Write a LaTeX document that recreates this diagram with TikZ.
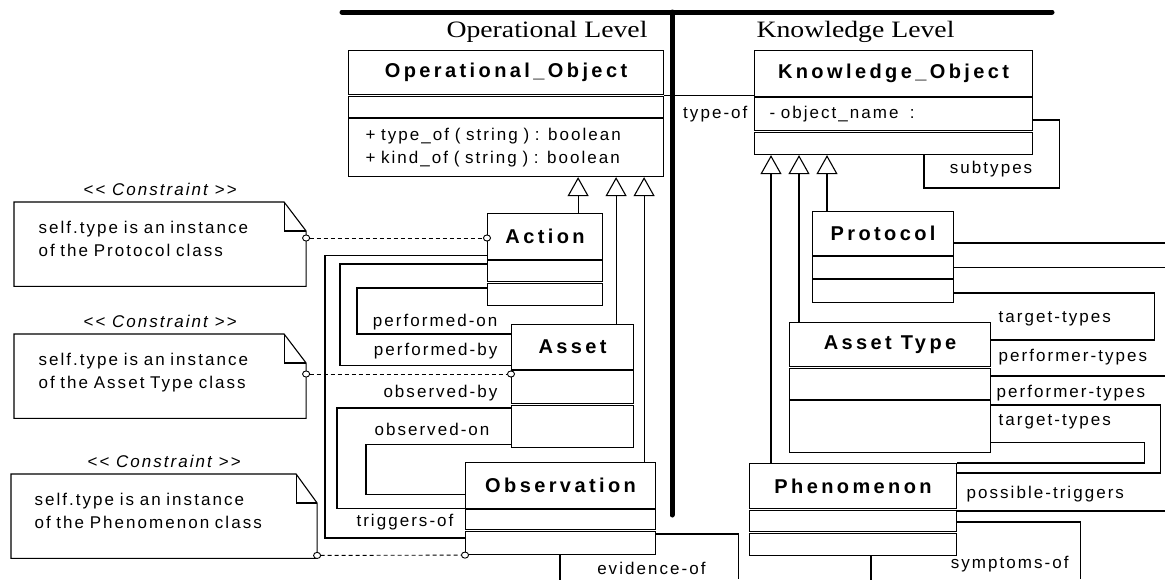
\documentclass[tikz,border=0pt]{standalone}
\usepackage{fontspec}
\setmainfont{Liberation Serif}
\newfontfamily\lblfont[LetterSpace=12]{Liberation Sans}
\newfontfamily\clsfont[LetterSpace=17]{Liberation Sans}
\newfontfamily\lvlfont[FakeStretch=1.18]{Liberation Serif}
\newcommand\lblsize{\lblfont\fontsize{17}{23}\selectfont\fontdimen2\font=8pt\relax}
\usetikzlibrary{positioning,arrows.meta}

\begin{document}
\begin{tikzpicture}[
          x=1pt, y=-1pt,
          line width=1.1pt,
          lbl/.style={font=\lblsize, inner sep=0pt},
          lvl/.style={font=\lvlfont\fontsize{23.5}{26}\selectfont, inner sep=0pt},
          hdr/.style={draw, anchor=north west, inner sep=0pt, font=\clsfont\bfseries\fontsize{20}{22}\selectfont},
          cmp/.style={draw, anchor=north west, inner sep=0pt, font=\lblsize},
          note/.style={anchor=north west, align=left, inner ysep=19pt, text depth=33pt, font=\lblsize},
          stereo/.style={font=\lblsize\itshape, inner sep=1pt},
          gen/.style={-{Triangle[length=19pt, width=21pt, fill=white]}},
          dep/.style={line width=0.9pt, dash pattern=on 4pt off 3pt,
                      {Circle[length=8pt, width=7pt, fill=white]}-{Circle[length=8pt, width=7pt, fill=white]},
                      shorten <=-4pt, shorten >=-4pt}
      ]
        \useasboundingbox (0,0) rectangle (1165,579);

        % operational level
        \node[hdr, minimum width=315pt, minimum height=44pt] (op) at (348,50) {Operational\_Object};
        \node[cmp, minimum width=315pt, minimum height=21pt] (op-a) at (348,96) {};
        \node[cmp, minimum height=58pt, inner xsep=17pt, text width=281pt, align=left] (op-m) at (348,118)
             {\mbox{+ type\_of ( string ) : boolean}\\\mbox{+ kind\_of ( string ) : boolean}};

        \node[hdr, minimum width=115pt, minimum height=46pt] (act) at (487,213) {Action};
        \node[cmp, minimum width=115pt, minimum height=21pt] (act-a) at (487,260) {};
        \node[cmp, minimum width=115pt, minimum height=22pt] (act-m) at (487,283) {};

        \node[hdr, minimum width=122pt, minimum height=45pt] (ast) at (511,324) {Asset};
        \node[cmp, minimum width=122pt, minimum height=33pt] (ast-a) at (511,370) {};
        \node[cmp, minimum width=122pt, minimum height=42pt] (ast-m) at (511,405) {};

        \node[hdr, minimum width=190pt, minimum height=46pt] (obs) at (465,462) {Observation};
        \node[cmp, minimum width=190pt, minimum height=20pt] (obs-a) at (465,509) {};
        \node[cmp, minimum width=190pt, minimum height=23pt] (obs-m) at (465,531) {};

        % knowledge level
        \node[hdr, minimum width=278pt, minimum height=46pt] (ko) at (754,50) {Knowledge\_Object};
        \node[cmp, minimum height=33pt, inner xsep=15pt, text width=248pt, align=left] (ko-a) at (754,97) {\mbox{- object\_name~~:}};
        \node[cmp, minimum width=278pt, minimum height=22pt] (ko-m) at (754,132) {};

        \node[hdr, minimum width=141pt, minimum height=44pt] (prot) at (812,211) {Protocol};
        \node[cmp, minimum width=141pt, minimum height=22pt] (prot-a) at (812,256) {};
        \node[cmp, minimum width=141pt, minimum height=23pt] (prot-m) at (812,279) {};

        \node[hdr, minimum width=201pt, minimum height=44pt] (atype) at (789,322) {Asset Type};
        \node[cmp, minimum width=201pt, minimum height=31pt] (atype-a) at (789,368) {};
        \node[cmp, minimum width=201pt, minimum height=52pt] (atype-m) at (789,400) {};

        \node[hdr, minimum width=207pt, minimum height=45pt] (phen) at (749,463) {Phenomenon};
        \node[cmp, minimum width=207pt, minimum height=21pt] (phen-a) at (749,510) {};
        \node[cmp, minimum width=207pt, minimum height=22pt] (phen-m) at (749,533) {};

        % constraints
        \node[note, minimum width=291pt, inner xsep=24pt, text width=243pt] (n1) at (14,202)
             {\mbox{self.type is an instance}\\\mbox{of the Protocol class}};
        \node[note, minimum width=291pt, inner xsep=24pt, text width=243pt] (n2) at (14,334)
             {\mbox{self.type is an instance}\\\mbox{of the Asset Type class}};
        \node[note, minimum width=305pt, inner xsep=23pt, text width=259pt] (n3) at (11,474)
             {\mbox{self.type is an instance}\\\mbox{of the Phenomenon class}};
        \foreach \n/\fx in {n1/22, n2/22, n3/21} {
          \draw (\n.north west) -- ([xshift=-\fx pt]\n.north east) -- ([yshift=-29pt]\n.north east)
                -- (\n.south east) -- (\n.south west) -- cycle;
          \draw ([xshift=-\fx pt]\n.north east) |- ([yshift=-29pt]\n.north east);
        }
        \node[stereo, above=5pt of n1] (c1) {<{}< Constraint >{}>};
        \node[stereo, above=5pt of n2] (c2) {<{}< Constraint >{}>};
        \node[stereo, above=5pt of n3] (c3) {<{}< Constraint >{}>};

        \draw[dep] ([yshift=-36pt]n1.north east) -- ([yshift=-25pt]act.north west);
        \draw[dep] ([yshift=-40pt]n2.north east) -- ([yshift=-4pt]ast-a.north west);
        \draw[dep] ([yshift=3pt]n3.south east) -- (obs-m.south west);

        % generalisations
        \draw[gen] ([xshift=-25pt]act.north east) coordinate (g) -- (g |- op-m.south);
        \draw[gen] ([xshift=-18pt]ast.north east) coordinate (g) -- (g |- op-m.south);
        \draw[gen] ([xshift=-12pt]obs.north east) coordinate (g) -- (g |- op-m.south);
        \draw[gen] ([xshift=15pt]prot.north west) coordinate (g) -- (g |- ko-m.south);
        \draw[gen] ([xshift=10pt]atype.north west) coordinate (g) -- (g |- ko-m.south);
        \draw[gen] ([xshift=22pt]phen.north west) coordinate (g) -- (g |- ko-m.south);

        % associations, operational side
        \draw (op.south east) -- (op.south east -| ko.west);
        \node[lbl, anchor=east] (tyof) at ([xshift=-6pt]ko-a.west) {type-of};

        \draw ([yshift=5pt]act.south west) -- ++(-162,0) |- ([yshift=-7pt]obs-m.north west);
        \draw ([yshift=-4pt]act-a.north west) -- ++(-147,0) |- ([yshift=5pt]ast.south west);
        \draw ([yshift=-5pt]act-m.north west) -- ++(-130,0) |- ([yshift=-10pt]ast.north west);
        \draw ([yshift=-3pt]ast-m.north west) -- ++(-174,0) |- ([yshift=1pt]obs.south west);
        \draw ([yshift=4pt]ast-m.south west) -- ++(-145,0) |- ([yshift=15pt]obs.south west);
        \node[lbl, anchor=east] (pon) at ([xshift=-13pt, yshift=2pt]ast.north west) {performed-on};
        \node[lbl, anchor=east] (pby) at ([xshift=-13pt, yshift=19pt]ast.south west) {performed-by};
        \node[lbl, anchor=east] (oby) at ([xshift=-13pt, yshift=-23pt]ast-a.north west) {observed-by};
        \node[lbl, anchor=east] (oon) at ([xshift=-21pt, yshift=-24pt]ast-m.north west) {observed-on};
        \node[lbl, anchor=east] (tof) at ([xshift=-11pt, yshift=-3pt]obs-a.west) {triggers-of};

        \draw ([yshift=-3pt]obs-m.north east) -- ++(82,0) -- ++(0,45);
        \draw ([xshift=95pt]obs-m.south west) -- ++(0,25);
        \node[lbl, anchor=east] (evof) at ([xshift=50pt, yshift=-13pt]obs-m.south east) {evidence-of};

        % associations, knowledge side
        \draw ([yshift=-23pt]ko-a.north east) -- ++(26,0) -- ++(0,68) -| ([xshift=170pt]ko-m.south west);
        \node[lbl] (subt) at ([xshift=-42pt, yshift=-14pt]ko-m.south east) {subtypes};

        \draw ([yshift=-32pt]prot.north east) -- ++(212,0);
        \draw (prot-a.east) -- ++(211,0) |- ([yshift=-8pt]atype-a.north east);
        \draw ([yshift=-14pt]prot-m.north east) -- ++(200,0) |- ([yshift=-18pt]atype.north east);
        \draw ([yshift=-5pt]atype-m.north east) -- ++(169,0) |- ([yshift=-10pt]phen.north east);
        \draw ([yshift=11pt]atype-m.south east) -- ++(153,0) |- (phen.north east);
        \node[lbl, anchor=west] (tt1) at ([xshift=7pt, yshift=3pt]atype.north east) {target-types};
        \node[lbl, anchor=west] (pt1) at ([xshift=7pt, yshift=-35pt]atype.north east) {performer-types};
        \node[lbl, anchor=west] (pt2) at ([xshift=5pt, yshift=7pt]atype-a.south east) {performer-types};
        \node[lbl, anchor=west] (tt2) at ([xshift=7pt, yshift=-22pt]atype-m.north east) {target-types};

        \draw ([yshift=-1pt]phen-a.north east) -- ++(209,0);
        \draw ([yshift=-12pt]phen-a.north east) -- ++(123,0) -- ++(0,57);
        \draw ([xshift=122pt]phen-m.south west) -- ++(0,24);
        \node[lbl, anchor=west] (ptrg) at ([xshift=9pt, yshift=15pt]phen.south east) {possible-triggers};
        \node[lbl, anchor=east] (symp) at ([xshift=112pt, yshift=-8pt]phen-m.south east) {symptoms-of};

        % level divider
        \draw[line width=5pt, line cap=round] (342,12) -- (1052,12);
        \draw[line width=5pt, line cap=round] (672,12) -- (672,515);
        \node[lvl, anchor=east] (oplvl) at (648,32) {Operational Level};
        \node[lvl, anchor=west] (knlvl) at (756,32) {Knowledge Level};
      \end{tikzpicture}
\end{document}
